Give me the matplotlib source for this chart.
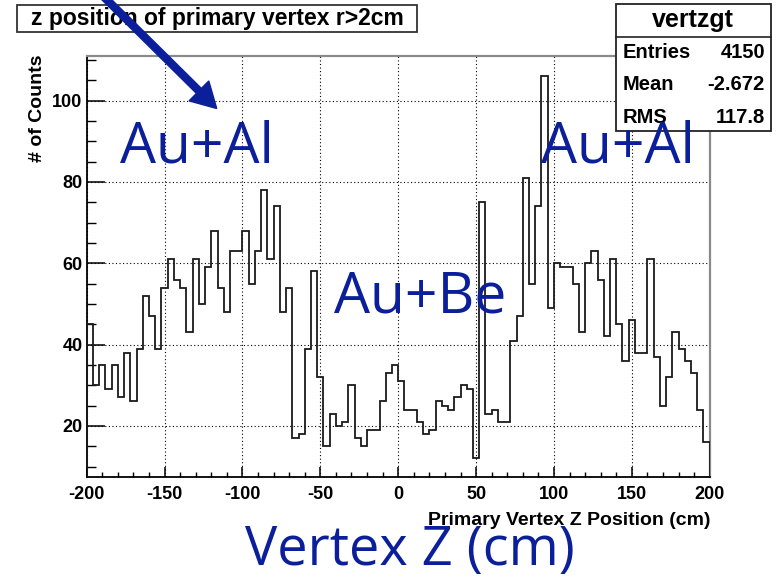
import numpy as np
import matplotlib
matplotlib.use("Agg")
import matplotlib.pyplot as plt
from matplotlib.patches import Rectangle, FancyArrow
from matplotlib.lines import Line2D
from matplotlib.transforms import IdentityTransform
from matplotlib.ticker import MultipleLocator

plt.rcParams['font.family'] = ['Liberation Sans', 'DejaVu Sans']

# Histogram binning: 100 bins of 4 cm between -200 and 200 cm
z_min, z_max, n_bins = -200, 200, 100

# Counts per bin (left to right)
counts = [
    45, 30, 35, 29, 35, 27, 38, 26, 39, 52,
    47, 39, 54, 61, 56, 54, 43, 61, 50, 59,
    68, 54, 48, 63, 63, 68, 55, 63, 78, 61,
    74, 48, 54, 17, 18, 39, 58, 32, 15, 23,
    20, 21, 30, 17, 15, 19, 19, 26, 33, 35,
    31, 24, 24, 21, 18, 19, 26, 25, 24, 27,
    30, 29, 12, 75, 23, 24, 21, 21, 41, 47,
    81, 55, 74, 106, 49, 60, 59, 59, 55, 43,
    60, 63, 56, 42, 61, 45, 36, 46, 38, 38,
    61, 37, 25, 32, 43, 39, 36, 33, 24, 16,
]

x_ticks = [-200, -150, -100, -50, 0, 50, 100, 150, 200]
y_ticks = [20, 40, 60, 80, 100]

title = "z position of primary vertex r>2cm"
x_label = "Primary Vertex Z Position (cm)"
y_label = "# of Counts"
hist_name = "vertzgt"
stat_names = ["Entries", "Mean", "RMS"]
stat_values = ["4150", "-2.672", "117.8"]
target_labels = ["Au+Al", "Au+Be", "Au+Al"]
axis_caption = "Vertex Z (cm)"

W, H = 777, 577
BLUE = "#0b1f9a"


def fx(px):
    return px / W


def fy(py):
    return 1 - py / H


fig = plt.figure(figsize=(W / 100, H / 100), dpi=100)
ax = fig.add_axes([fx(86.7), fy(476.7), (709.7 - 86.7) / W, (476.7 - 55.5) / H])

edges = np.linspace(z_min, z_max, n_bins + 1)
ax.stairs(counts, edges, baseline=0, color="#1a1a1a", linewidth=1.3, zorder=3)

ax.set_xlim(z_min, z_max)
ax.set_ylim(7.5, 111.1)

ax.set_xticks(x_ticks, labels=[str(t) for t in x_ticks], fontweight="bold", fontsize=13)
ax.set_yticks(y_ticks, labels=[str(t) for t in y_ticks], fontweight="bold", fontsize=13)
ax.xaxis.set_minor_locator(MultipleLocator(10))
ax.yaxis.set_minor_locator(MultipleLocator(5))
ax.tick_params(axis="y", which="major", direction="in", length=13, width=1.1, pad=3)
ax.tick_params(axis="y", which="minor", direction="in", length=6.5, width=1.0)
ax.tick_params(axis="x", which="major", direction="in", length=7, width=1.1, pad=7)
ax.tick_params(axis="x", which="minor", direction="in", length=3.6, width=1.0)

ax.grid(True, which="major", color="black", linestyle=(0, (1, 2.2)), linewidth=0.8)
ax.set_axisbelow(True)

for side in ("left", "bottom"):
    ax.spines[side].set_color("black")
    ax.spines[side].set_linewidth(1.3)
for side in ("top", "right"):
    ax.spines[side].set_color("#8a8a8a")
    ax.spines[side].set_linewidth(1.6)

# Axis titles
fig.text(fx(711), fy(525), x_label, ha="right", va="baseline",
         fontweight="bold", fontsize=14)
fig.text(fx(38), fy(55), y_label, ha="center", va="top", rotation=90,
         fontweight="bold", fontsize=14)

# Title box
ax.add_patch(Rectangle((fx(17), fy(32)), (417 - 17) / W, (32 - 5) / H,
                       transform=fig.transFigure, clip_on=False,
                       facecolor="white", edgecolor="#333333", linewidth=1.3,
                       zorder=4))
ax.text(fx(217), fy(19), title, transform=fig.transFigure, ha="center",
        va="center", fontweight="bold", fontsize=16.5, zorder=5, clip_on=False)

# Statistics box
ax.add_patch(Rectangle((fx(616), fy(131)), (771 - 616) / W, (131 - 4) / H,
                       transform=fig.transFigure, clip_on=False,
                       facecolor="white", edgecolor="#222222", linewidth=1.3,
                       zorder=4))
ax.add_line(Line2D([fx(616), fx(771)], [fy(37), fy(37)],
                   transform=fig.transFigure, clip_on=False,
                   color="#222222", linewidth=1.2, zorder=4.5))
ax.text(fx(693), fy(20), hist_name, transform=fig.transFigure, ha="center",
        va="center", fontweight="bold", fontsize=18, zorder=5, clip_on=False)
for i, (name, val) in enumerate(zip(stat_names, stat_values)):
    yrow = 53 + 32 * i
    ax.text(fx(623), fy(yrow), name, transform=fig.transFigure, ha="left",
            va="center", fontweight="bold", fontsize=14.5, zorder=5, clip_on=False)
    ax.text(fx(765), fy(yrow), val, transform=fig.transFigure, ha="right",
            va="center", fontweight="bold", fontsize=14.5, zorder=5, clip_on=False)

# Target labels
label_font = dict(family=["Open Sans", "DejaVu Sans"], fontsize=41, color=BLUE,
                  ha="center", va="baseline", zorder=6, clip_on=False)
ax.text(-129.5, 84.9, target_labels[0], **label_font)
ax.text(14, 48.0, target_labels[1], **label_font)
ax.text(141, 84.9, target_labels[2], **label_font)

fig.text(fx(409.5), fy(565), axis_caption, ha="center", va="baseline",
         family=["Open Sans", "DejaVu Sans"], fontsize=39, color=BLUE)

# Pointer arrow
arrow = FancyArrow(102, H + 5, 114.7, -113.5, width=7, head_width=28,
                   head_length=25, length_includes_head=True,
                   transform=IdentityTransform(), color=BLUE, zorder=7)
fig.add_artist(arrow)

fig.savefig("out.png", dpi=100)
